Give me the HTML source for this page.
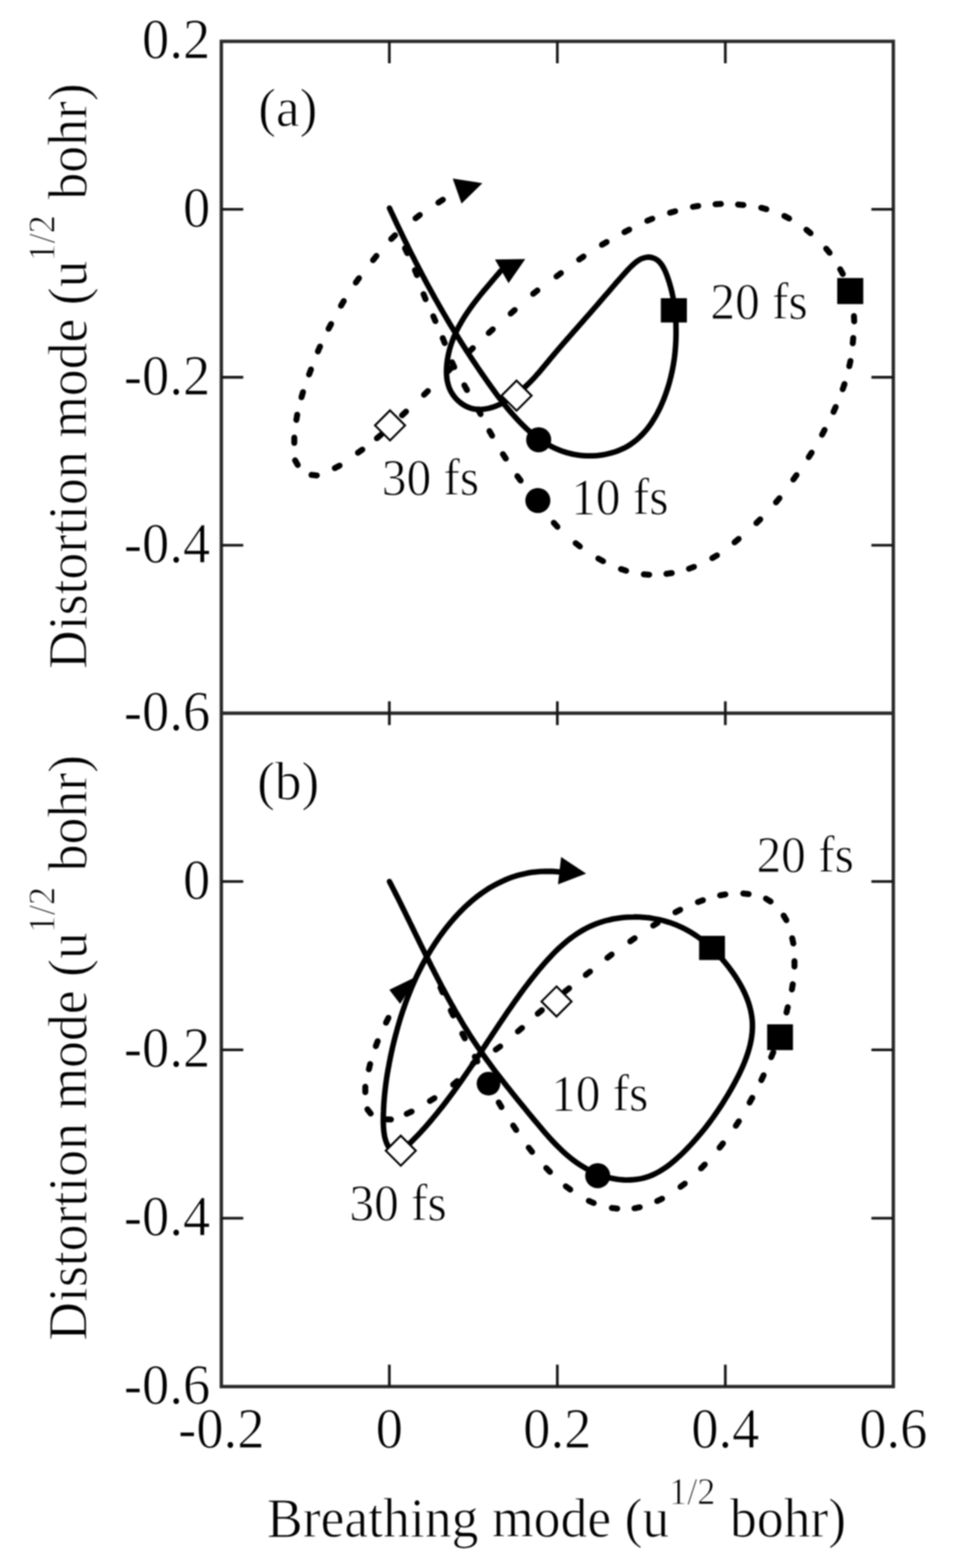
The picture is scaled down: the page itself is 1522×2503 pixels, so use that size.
<!DOCTYPE html>
<html lang="en">
<head>
<meta charset="utf-8">
<title>Breathing mode vs distortion mode trajectories</title>
<style>
html,body{margin:0;padding:0;background:#fff;}
body{width:1522px;height:2503px;overflow:hidden;font-family:"Liberation Serif","DejaVu Serif",serif;}
svg{display:block;filter:blur(1.0px);}
text{white-space:pre;}
</style>
</head>
<body>
<svg width="1522" height="2503" viewBox="0 0 1522 2503">
<rect width="1522" height="2503" fill="#fff"/>
<g fill="none" stroke="#2a2a2a" stroke-width="5.40" stroke-linecap="butt">
<rect x="353.50" y="66.00" width="1073.20" height="2147.40"/>
<line x1="353.50" y1="1138.50" x2="1426.70" y2="1138.50"/>
</g>
<g stroke="#181818" stroke-width="4.30">
<line x1="621.80" y1="66.00" x2="621.80" y2="101.00"/>
<line x1="621.80" y1="1119.50" x2="621.80" y2="1157.50"/>
<line x1="621.80" y1="2178.40" x2="621.80" y2="2213.40"/>
<line x1="890.10" y1="66.00" x2="890.10" y2="101.00"/>
<line x1="890.10" y1="1119.50" x2="890.10" y2="1157.50"/>
<line x1="890.10" y1="2178.40" x2="890.10" y2="2213.40"/>
<line x1="1158.40" y1="66.00" x2="1158.40" y2="101.00"/>
<line x1="1158.40" y1="1119.50" x2="1158.40" y2="1157.50"/>
<line x1="1158.40" y1="2178.40" x2="1158.40" y2="2213.40"/>
<line x1="353.50" y1="334.12" x2="388.50" y2="334.12"/>
<line x1="1391.70" y1="334.12" x2="1426.70" y2="334.12"/>
<line x1="353.50" y1="602.25" x2="388.50" y2="602.25"/>
<line x1="1391.70" y1="602.25" x2="1426.70" y2="602.25"/>
<line x1="353.50" y1="870.38" x2="388.50" y2="870.38"/>
<line x1="1391.70" y1="870.38" x2="1426.70" y2="870.38"/>
<line x1="353.50" y1="1407.22" x2="388.50" y2="1407.22"/>
<line x1="1391.70" y1="1407.22" x2="1426.70" y2="1407.22"/>
<line x1="353.50" y1="1675.95" x2="388.50" y2="1675.95"/>
<line x1="1391.70" y1="1675.95" x2="1426.70" y2="1675.95"/>
<line x1="353.50" y1="1944.68" x2="388.50" y2="1944.68"/>
<line x1="1391.70" y1="1944.68" x2="1426.70" y2="1944.68"/>
</g>
<g font-family="'Liberation Serif', 'DejaVu Serif', serif" fill="#000" stroke="#fff" stroke-width="1.20">
<text transform="translate(335.8 93.4) scale(1 1.037)" font-size="87.2" text-anchor="end">0.2</text>
<text transform="translate(335.8 361.5) scale(1 1.037)" font-size="87.2" text-anchor="end">0</text>
<text transform="translate(335.8 629.6) scale(1 1.037)" font-size="87.2" text-anchor="end">-0.2</text>
<text transform="translate(335.8 897.8) scale(1 1.037)" font-size="87.2" text-anchor="end">-0.4</text>
<text transform="translate(335.8 1165.9) scale(1 1.037)" font-size="87.2" text-anchor="end">-0.6</text>
<text transform="translate(335.8 1434.6) scale(1 1.037)" font-size="87.2" text-anchor="end">0</text>
<text transform="translate(335.8 1703.4) scale(1 1.037)" font-size="87.2" text-anchor="end">-0.2</text>
<text transform="translate(335.8 1972.1) scale(1 1.037)" font-size="87.2" text-anchor="end">-0.4</text>
<text transform="translate(335.8 2240.8) scale(1 1.037)" font-size="87.2" text-anchor="end">-0.6</text>
<text transform="translate(353.5 2310.8) scale(1 1.037)" font-size="87.2" text-anchor="middle">-0.2</text>
<text transform="translate(621.8 2310.8) scale(1 1.037)" font-size="87.2" text-anchor="middle">0</text>
<text transform="translate(890.1 2310.8) scale(1 1.037)" font-size="87.2" text-anchor="middle">0.2</text>
<text transform="translate(1158.4 2310.8) scale(1 1.037)" font-size="87.2" text-anchor="middle">0.4</text>
<text transform="translate(1426.7 2310.8) scale(1 1.037)" font-size="87.2" text-anchor="middle">0.6</text>
<g transform="translate(0 2452.8) scale(1 1.040)"><text font-size="85.7"><tspan x="426.3" y="0">Breathing mode (u</tspan><tspan x="1068.5" y="-49.5" font-size="58.0">1/2 </tspan><tspan x="1165.8" y="0">bohr)</tspan></text></g>
<g transform="translate(138.3 1068.0) rotate(-90)"><g transform="translate(0 0.0) scale(1 1.040)"><text font-size="85.7"><tspan x="0.0" y="0">Distortion mode (u</tspan><tspan x="650.5" y="-49.5" font-size="58.0">1/2 </tspan><tspan x="749.5" y="0">bohr)</tspan></text></g></g>
<g transform="translate(138.3 2140.3) rotate(-90)"><g transform="translate(0 0.0) scale(1 1.040)"><text font-size="85.7"><tspan x="0.0" y="0">Distortion mode (u</tspan><tspan x="650.5" y="-49.5" font-size="58.0">1/2 </tspan><tspan x="749.5" y="0">bohr)</tspan></text></g></g>
<text transform="translate(412.5 200.8) scale(1 1.020)" font-size="85.0" text-anchor="start">(a)</text>
<text transform="translate(410.8 1275.6) scale(1 1.020)" font-size="85.0" text-anchor="start">(b)</text>
<text transform="translate(609.8 790.0) scale(1 1.040)" font-size="78.8" text-anchor="start">30 fs</text>
<text transform="translate(1134.5 509.0) scale(1 1.040)" font-size="78.8" text-anchor="start">20 fs</text>
<text transform="translate(912.2 821.0) scale(1 1.040)" font-size="78.8" text-anchor="start">10 fs</text>
<text transform="translate(558.0 1948.0) scale(1 1.040)" font-size="78.8" text-anchor="start">30 fs</text>
<text transform="translate(880.0 1773.0) scale(1 1.040)" font-size="78.8" text-anchor="start">10 fs</text>
<text transform="translate(1208.2 1392.0) scale(1 1.040)" font-size="78.8" text-anchor="start">20 fs</text>
</g>
<path d="M646.8 396.3 L650.4 404.1 M662.7 431.2 L665.9 439.2 M676.4 469.6 L679.6 477.6 M692.0 504.8 L695.4 512.6 M707.1 539.7 L710.3 547.7 M721.9 578.2 L725.5 586.0 M741.6 615.0 L745.8 622.6 M763.3 653.4 L767.5 661.0 M781.7 688.1 L785.9 695.5 M803.2 724.9 L807.8 732.1 M826.3 760.1 L831.5 767.1 M884.4 834.5 L890.2 840.9 M919.3 867.1 L926.1 872.3 M955.6 891.6 L963.2 895.8 M991.7 908.4 L999.9 911.0 M1028.2 916.8 L1036.8 917.4 M1064.3 916.0 L1072.9 914.8 M1100.3 907.9 L1108.3 904.9 M1137.6 890.9 L1145.0 886.5 M1173.1 865.7 L1179.7 860.3 M1208.0 835.0 L1214.2 829.0 M1239.3 801.9 L1244.9 795.3 M1267.0 765.4 L1272.0 758.4 M1291.6 729.8 L1296.2 722.6 M1312.9 693.9 L1316.9 686.3 M1331.2 657.5 L1334.6 649.7 M1345.9 621.3 L1348.7 613.1 M1356.4 584.6 L1358.2 576.2 M1361.9 548.0 L1362.7 539.4 M1364.2 513.0 L1363.8 504.4 M1346.0 437.4 L1341.8 429.8 M1324.9 403.5 L1319.5 396.9 M1294.5 372.2 L1287.9 366.8 M1260.3 348.8 L1252.7 344.8 M1223.9 333.9 L1215.7 331.7 M1187.3 327.2 L1178.7 326.4 M1151.3 325.6 L1142.7 326.0 M1115.1 328.7 L1106.7 330.1 M1078.3 337.2 L1070.1 339.6 M1041.8 349.2 L1033.8 352.4 M1004.9 366.5 L997.3 370.5 M968.8 386.3 L961.4 390.7 M931.9 409.5 L924.9 414.3 M895.8 436.0 L888.8 441.2 M858.3 463.6 L851.5 469.0 M822.0 494.9 L815.6 500.5 M787.0 525.8 L780.6 531.6 M755.2 555.8 L749.0 561.6 M721.1 587.0 L714.9 593.0 M683.4 624.2 L677.2 630.2 M648.5 657.1 L642.1 662.9 M608.5 694.0 L601.9 699.6 M578.7 717.7 L571.7 722.7 M542.3 743.2 L534.7 747.2 M506.0 758.9 L497.4 758.1 M475.5 742.2 L471.3 734.8 M470.0 707.1 L470.0 698.5 M473.3 670.3 L474.7 661.9 M481.5 634.1 L483.9 625.9 M493.6 597.8 L496.6 589.8 M507.7 561.0 L511.1 553.2 M524.8 524.8 L528.8 517.2 M544.6 488.0 L549.0 480.6 M568.3 451.1 L573.3 444.1 M595.8 415.2 L601.2 408.6 M624.8 381.5 L631.0 375.5 M663.6 348.4 L670.4 343.2 M700.1 323.4 L707.3 318.8" fill="none" stroke="#000" stroke-width="9.5" stroke-linecap="round"/>
<path d="M622.0 332.2 C622.7 333.7 624.9 338.5 626.4 341.6 C627.8 344.8 629.3 347.9 630.8 351.0 C632.3 354.2 633.7 357.3 635.2 360.4 C636.7 363.5 638.2 366.6 639.7 369.7 C641.2 372.7 642.6 375.8 644.1 378.9 C645.6 381.9 647.1 385.0 648.6 388.0 C650.1 391.0 651.6 394.1 653.1 397.1 C654.6 400.1 656.1 403.1 657.6 406.1 C659.1 409.1 660.7 412.1 662.2 415.1 C663.7 418.1 665.2 421.0 666.8 424.0 C668.3 427.0 669.8 429.9 671.4 432.9 C672.9 435.8 674.5 438.8 676.0 441.7 C677.6 444.6 679.1 447.6 680.7 450.5 C682.3 453.4 683.9 456.3 685.4 459.2 C687.0 462.1 688.6 465.0 690.2 467.9 C691.8 470.8 693.4 473.7 695.0 476.6 C696.6 479.5 698.3 482.3 699.9 485.2 C701.5 488.1 703.2 491.0 704.8 493.8 C706.5 496.7 708.1 499.5 709.8 502.4 C711.5 505.2 713.1 508.1 714.8 510.9 C716.5 513.8 718.2 516.6 719.9 519.5 C721.6 522.3 723.4 525.1 725.1 528.0 C726.8 530.8 728.6 533.6 730.3 536.4 C732.1 539.3 733.8 542.1 735.6 544.9 C737.4 547.7 739.2 550.6 741.0 553.4 C742.8 556.2 744.6 559.0 746.4 561.8 C748.3 564.6 750.1 567.4 751.9 570.3 C753.8 573.1 755.7 575.9 757.6 578.7 C759.4 581.5 761.3 584.3 763.2 587.1 C765.1 589.9 767.1 592.7 769.0 595.6 C771.0 598.4 772.9 601.2 774.9 604.0 C776.8 606.8 778.8 609.6 780.8 612.4 C782.8 615.3 784.8 618.1 786.9 620.9 C788.9 623.7 791.0 626.5 793.0 629.3 C795.1 632.1 797.2 634.9 799.3 637.6 C801.4 640.4 803.6 643.1 805.7 645.8 C807.9 648.5 810.1 651.2 812.3 653.9 C814.5 656.5 816.8 659.2 819.0 661.7 C821.3 664.3 823.6 666.8 825.9 669.3 C828.2 671.8 830.6 674.3 833.0 676.7 C835.4 679.1 837.8 681.4 840.2 683.7 C842.7 685.9 845.2 688.2 847.7 690.3 C850.2 692.4 852.8 694.5 855.4 696.5 C858.0 698.5 860.7 700.5 863.3 702.3 C866.0 704.2 868.7 705.9 871.5 707.6 C874.3 709.3 877.1 710.9 879.9 712.4 C882.8 713.9 885.7 715.3 888.6 716.6 C891.6 717.9 894.6 719.1 897.6 720.2 C900.7 721.3 903.7 722.2 906.9 723.1 C910.0 724.0 913.2 724.7 916.5 725.3 C919.7 726.0 923.0 726.5 926.4 726.8 C929.7 727.2 933.1 727.5 936.5 727.6 C939.9 727.7 943.3 727.7 946.8 727.6 C950.2 727.4 953.6 727.2 957.0 726.8 C960.5 726.4 963.9 725.9 967.2 725.2 C970.6 724.5 974.0 723.7 977.2 722.8 C980.5 721.9 983.8 720.8 986.9 719.6 C990.1 718.4 993.2 717.0 996.2 715.6 C999.2 714.1 1002.1 712.5 1004.9 710.7 C1007.7 708.9 1010.4 707.0 1013.0 705.0 C1015.7 703.0 1018.2 700.9 1020.6 698.6 C1023.0 696.4 1025.4 694.0 1027.6 691.5 C1029.9 689.1 1032.0 686.5 1034.1 683.9 C1036.2 681.2 1038.2 678.5 1040.1 675.7 C1042.0 672.9 1043.8 670.0 1045.5 667.1 C1047.3 664.2 1049.0 661.1 1050.5 658.1 C1052.1 655.1 1053.6 652.0 1055.1 648.8 C1056.5 645.7 1057.9 642.5 1059.2 639.4 C1060.5 636.2 1061.7 633.0 1062.9 629.7 C1064.1 626.5 1065.1 623.3 1066.2 620.0 C1067.2 616.8 1068.2 613.6 1069.1 610.3 C1070.0 607.1 1070.8 603.8 1071.6 600.6 C1072.4 597.3 1073.1 594.0 1073.8 590.8 C1074.4 587.5 1075.1 584.2 1075.6 581.0 C1076.1 577.7 1076.6 574.4 1077.1 571.1 C1077.5 567.9 1077.9 564.6 1078.2 561.3 C1078.5 558.0 1078.8 554.7 1079.0 551.4 C1079.2 548.1 1079.4 544.8 1079.5 541.5 C1079.6 538.2 1079.7 534.9 1079.7 531.6 C1079.7 528.3 1079.7 524.9 1079.6 521.6 C1079.6 518.3 1079.4 515.0 1079.3 511.7 C1079.1 508.3 1078.9 505.0 1078.6 501.7 C1078.3 498.4 1077.9 495.0 1077.5 491.7 C1077.1 488.3 1076.6 485.0 1076.1 481.6 C1075.5 478.3 1074.9 474.9 1074.2 471.6 C1073.5 468.2 1072.8 464.9 1071.9 461.5 C1071.0 458.1 1070.1 454.8 1069.1 451.4 C1068.0 448.0 1066.9 444.6 1065.7 441.2 C1064.5 437.9 1063.2 434.4 1061.7 431.3 C1060.2 428.2 1058.5 425.1 1056.6 422.4 C1054.8 419.8 1052.7 417.4 1050.3 415.5 C1047.9 413.7 1045.2 412.3 1042.4 411.5 C1039.5 410.6 1036.3 410.3 1033.3 410.6 C1030.3 410.9 1027.3 411.8 1024.3 413.0 C1021.4 414.3 1018.6 416.2 1015.9 418.3 C1013.1 420.3 1010.5 422.8 1007.9 425.3 C1005.3 427.8 1002.8 430.6 1000.4 433.2 C998.0 435.8 995.6 438.5 993.3 441.1 C991.0 443.7 988.7 446.2 986.5 448.8 C984.2 451.3 982.1 453.8 979.9 456.3 C977.7 458.8 975.6 461.3 973.5 463.8 C971.3 466.3 969.2 468.8 967.1 471.2 C965.0 473.7 962.9 476.2 960.7 478.7 C958.6 481.2 956.4 483.7 954.3 486.2 C952.1 488.7 949.9 491.2 947.7 493.7 C945.5 496.2 943.3 498.7 941.0 501.3 C938.8 503.8 936.6 506.3 934.3 508.9 C932.1 511.4 929.9 514.0 927.6 516.5 C925.4 519.1 923.1 521.6 920.9 524.2 C918.6 526.7 916.3 529.3 914.1 531.9 C911.8 534.4 909.6 537.0 907.4 539.5 C905.1 542.1 902.9 544.7 900.7 547.2 C898.4 549.8 896.2 552.4 894.0 554.9 C891.8 557.5 889.6 560.1 887.4 562.6 C885.2 565.2 883.1 567.8 880.9 570.3 C878.8 572.9 876.7 575.4 874.6 578.0 C872.4 580.5 870.3 583.1 868.2 585.6 C866.1 588.1 864.0 590.7 861.9 593.2 C859.7 595.6 857.6 598.1 855.4 600.6 C853.2 603.0 851.0 605.4 848.7 607.8 C846.4 610.2 844.1 612.5 841.7 614.8 C839.3 617.1 836.8 619.4 834.3 621.6 C831.8 623.8 829.1 626.0 826.4 628.1 C823.7 630.2 820.9 632.3 818.0 634.2 C815.1 636.2 812.2 638.1 809.1 639.9 C806.1 641.7 803.0 643.3 799.9 644.8 C796.7 646.3 793.5 647.7 790.3 648.9 C787.1 650.0 783.9 651.0 780.7 651.8 C777.5 652.5 774.2 653.1 771.0 653.3 C767.8 653.6 764.6 653.6 761.5 653.4 C758.3 653.1 755.2 652.5 752.2 651.7 C749.1 650.8 746.1 649.5 743.2 648.0 C740.3 646.5 737.5 644.6 734.9 642.5 C732.2 640.5 729.7 638.1 727.5 635.5 C725.3 633.0 723.2 630.2 721.5 627.3 C719.7 624.4 718.3 621.4 717.1 618.2 C715.9 615.0 715.1 611.7 714.4 608.4 C713.8 605.1 713.4 601.6 713.2 598.2 C713.0 594.8 713.0 591.2 713.2 587.8 C713.3 584.3 713.7 580.8 714.1 577.4 C714.5 574.0 715.1 570.6 715.8 567.3 C716.5 563.9 717.3 560.7 718.1 557.4 C719.0 554.2 720.0 551.0 721.1 547.9 C722.2 544.7 723.3 541.6 724.6 538.5 C725.9 535.5 727.2 532.4 728.6 529.5 C730.1 526.5 731.6 523.5 733.1 520.6 C734.7 517.7 736.3 514.8 738.0 511.9 C739.7 509.1 741.5 506.2 743.3 503.4 C745.1 500.6 747.0 497.9 748.9 495.1 C750.8 492.4 752.8 489.6 754.8 486.9 C756.8 484.2 758.8 481.6 760.9 478.9 C763.0 476.2 765.1 473.6 767.2 470.9 C769.3 468.3 771.5 465.7 773.6 463.1 C775.8 460.5 778.0 457.9 780.2 455.3 C782.3 452.7 784.5 450.2 786.7 447.6 C788.9 445.0 791.1 442.5 793.3 439.9 C795.5 437.4 798.7 433.5 799.8 432.3" fill="none" stroke="#000" stroke-width="8.8" stroke-linecap="round" stroke-linejoin="round"/>
<polygon points="790.5,414.2 838.9,413.5 812.2,451.9" fill="#000"/>
<polygon points="723.0,285.0 770.4,292.4 737.1,325.1" fill="#000"/>
<circle cx="860.3" cy="702.0" r="20.0" fill="#000"/>
<circle cx="859.0" cy="799.0" r="20.0" fill="#000"/>
<rect x="1055.4" y="476.0" width="41.6" height="38.8" fill="#000"/>
<rect x="1337.1" y="443.8" width="41.6" height="41.6" fill="#000"/>
<polygon points="825.0,607.6 849.0,631.6 825.0,655.6 801.0,631.6" fill="#fff" stroke="#000" stroke-width="3.2"/>
<polygon points="622.9,655.1 646.9,679.1 622.9,703.1 598.9,679.1" fill="#fff" stroke="#000" stroke-width="3.2"/>
<path d="M703.5 1576.4 L706.9 1584.2 M720.0 1613.1 L723.8 1620.9 M738.3 1650.0 L742.3 1657.6 M758.3 1686.7 L762.3 1694.3 M796.5 1759.8 L800.9 1767.2 M819.6 1796.6 L824.4 1803.8 M844.4 1831.9 L849.8 1838.7 M872.4 1864.5 L878.4 1870.7 M903.7 1893.7 L910.7 1898.9 M940.4 1916.9 L948.2 1920.3 M977.1 1928.3 L985.7 1929.3 M1013.3 1928.8 L1021.7 1927.2 M1049.6 1917.3 L1057.4 1913.5 M1086.8 1894.6 L1093.6 1889.4 M1119.6 1865.1 L1125.6 1858.9 M1149.2 1832.0 L1154.6 1825.2 M1175.2 1797.1 L1180.0 1789.9 M1197.2 1760.0 L1201.4 1752.4 M1215.9 1724.2 L1219.5 1716.4 M1231.6 1687.6 L1235.0 1679.6 M1256.1 1616.2 L1258.1 1607.8 M1264.7 1579.5 L1266.1 1571.1 M1268.8 1542.9 L1268.8 1534.3 M1267.0 1506.1 L1265.2 1497.7 M1255.9 1468.9 L1251.5 1461.5 M1230.7 1439.1 L1223.3 1434.5 M1195.6 1427.3 L1187.0 1426.3 M1158.5 1427.8 L1150.1 1429.2 M1122.6 1437.1 L1114.6 1439.9 M1086.3 1452.2 L1078.7 1456.2 M1050.4 1472.9 L1043.2 1477.5 M1013.6 1497.7 L1006.6 1502.7 M976.8 1523.7 L970.0 1528.9 M942.3 1550.9 L935.5 1556.3 M908.9 1577.6 L902.1 1583.0 M865.4 1612.6 L858.8 1618.2 M833.7 1640.9 L827.1 1646.5 M798.8 1670.5 L791.8 1675.5 M761.9 1692.4 L755.3 1697.8 M730.1 1725.7 L723.7 1731.3 M693.8 1752.9 L686.6 1757.5 M657.4 1774.4 L649.6 1778.0 M624.4 1787.0 L615.8 1786.8 M592.0 1777.6 L586.8 1770.8 M583.4 1743.4 L583.4 1734.8 M589.1 1707.0 L591.1 1698.6 M600.2 1670.0 L603.2 1662.0 M616.5 1632.6 L620.3 1624.8" fill="none" stroke="#000" stroke-width="9.5" stroke-linecap="round"/>
<path d="M639.7 1837.7 C637.9 1837.7 632.0 1838.7 629.0 1837.9 C626.1 1837.0 624.0 1834.9 622.1 1832.8 C620.2 1830.6 618.8 1827.8 617.6 1825.0 C616.3 1822.1 615.4 1819.0 614.6 1815.8 C613.9 1812.6 613.4 1809.2 613.0 1805.8 C612.6 1802.3 612.4 1798.7 612.2 1795.1 C612.1 1791.5 612.1 1787.8 612.2 1784.2 C612.2 1780.6 612.3 1777.0 612.5 1773.4 C612.6 1769.8 612.8 1766.3 613.0 1762.8 C613.2 1759.3 613.5 1755.8 613.8 1752.3 C614.1 1748.9 614.4 1745.4 614.8 1742.0 C615.2 1738.6 615.6 1735.2 616.0 1731.8 C616.4 1728.5 616.9 1725.1 617.4 1721.8 C617.9 1718.4 618.4 1715.1 619.0 1711.8 C619.6 1708.4 620.1 1705.1 620.8 1701.8 C621.4 1698.5 622.0 1695.2 622.7 1691.9 C623.3 1688.6 624.0 1685.3 624.7 1682.0 C625.4 1678.7 626.2 1675.4 626.9 1672.0 C627.7 1668.7 628.5 1665.4 629.3 1662.1 C630.1 1658.8 631.0 1655.6 631.8 1652.3 C632.7 1649.0 633.6 1645.7 634.5 1642.4 C635.4 1639.1 636.4 1635.8 637.3 1632.6 C638.3 1629.3 639.3 1626.0 640.3 1622.8 C641.4 1619.5 642.4 1616.3 643.5 1613.0 C644.6 1609.8 645.8 1606.6 646.9 1603.3 C648.1 1600.1 649.2 1596.9 650.5 1593.7 C651.7 1590.5 652.9 1587.3 654.2 1584.2 C655.5 1581.0 656.8 1577.8 658.1 1574.7 C659.5 1571.5 660.9 1568.4 662.3 1565.3 C663.7 1562.1 665.1 1559.0 666.6 1555.9 C668.1 1552.8 669.6 1549.8 671.2 1546.7 C672.7 1543.7 674.3 1540.6 675.9 1537.6 C677.6 1534.6 679.2 1531.6 680.9 1528.6 C682.6 1525.6 684.4 1522.6 686.1 1519.7 C687.9 1516.7 689.7 1513.8 691.6 1510.9 C693.4 1508.0 695.3 1505.1 697.2 1502.3 C699.2 1499.4 701.1 1496.6 703.1 1493.8 C705.1 1490.9 707.2 1488.2 709.3 1485.4 C711.4 1482.7 713.5 1479.9 715.7 1477.2 C717.8 1474.6 720.0 1471.9 722.3 1469.3 C724.5 1466.7 726.8 1464.1 729.2 1461.6 C731.5 1459.0 733.9 1456.5 736.3 1454.1 C738.7 1451.7 741.1 1449.3 743.6 1446.9 C746.1 1444.6 748.6 1442.3 751.2 1440.1 C753.7 1437.8 756.4 1435.7 759.0 1433.5 C761.6 1431.4 764.3 1429.4 767.1 1427.4 C769.8 1425.4 772.5 1423.5 775.4 1421.6 C778.2 1419.7 781.0 1418.0 783.9 1416.2 C786.8 1414.5 789.7 1412.9 792.7 1411.3 C795.6 1409.8 798.6 1408.3 801.7 1406.9 C804.7 1405.5 807.8 1404.1 810.9 1402.9 C814.0 1401.7 817.2 1400.5 820.4 1399.4 C823.6 1398.4 826.9 1397.4 830.1 1396.5 C833.4 1395.7 836.7 1394.9 840.1 1394.2 C843.5 1393.5 846.9 1392.9 850.3 1392.4 C853.7 1392.0 857.2 1391.6 860.7 1391.3 C864.3 1391.0 867.8 1390.9 871.4 1390.8 C875.0 1390.8 878.6 1390.8 882.3 1391.0 C886.0 1391.2 891.6 1391.7 893.5 1391.9" fill="none" stroke="#000" stroke-width="8.8" stroke-linecap="round" stroke-linejoin="round"/>
<path d="M622.0 1407.2 C622.8 1408.7 625.1 1413.1 626.6 1416.1 C628.1 1419.0 629.6 1422.0 631.1 1425.0 C632.6 1427.9 634.1 1430.9 635.6 1433.9 C637.1 1436.9 638.6 1439.9 640.1 1442.9 C641.5 1445.9 643.0 1448.9 644.5 1451.9 C646.0 1454.9 647.5 1457.9 648.9 1460.9 C650.4 1463.9 651.9 1467.0 653.4 1470.0 C654.8 1473.0 656.3 1476.0 657.8 1479.0 C659.3 1482.1 660.7 1485.1 662.2 1488.1 C663.7 1491.2 665.2 1494.2 666.7 1497.2 C668.1 1500.2 669.6 1503.3 671.1 1506.3 C672.6 1509.3 674.1 1512.4 675.6 1515.4 C677.1 1518.4 678.6 1521.4 680.1 1524.5 C681.6 1527.5 683.1 1530.5 684.6 1533.5 C686.1 1536.5 687.6 1539.6 689.1 1542.6 C690.6 1545.6 692.2 1548.6 693.7 1551.6 C695.2 1554.6 696.8 1557.6 698.3 1560.6 C699.9 1563.6 701.4 1566.6 703.0 1569.6 C704.6 1572.6 706.1 1575.6 707.7 1578.5 C709.3 1581.5 710.9 1584.5 712.5 1587.4 C714.1 1590.4 715.7 1593.3 717.3 1596.3 C719.0 1599.2 720.6 1602.2 722.2 1605.1 C723.9 1608.0 725.5 1611.0 727.2 1613.9 C728.9 1616.8 730.6 1619.7 732.3 1622.6 C734.0 1625.5 735.7 1628.4 737.4 1631.2 C739.1 1634.1 740.9 1637.0 742.6 1639.8 C744.4 1642.7 746.2 1645.5 747.9 1648.3 C749.7 1651.1 751.5 1654.0 753.3 1656.8 C755.2 1659.6 757.0 1662.3 758.9 1665.1 C760.7 1667.9 762.6 1670.6 764.5 1673.4 C766.3 1676.1 768.3 1678.9 770.2 1681.6 C772.1 1684.3 774.0 1687.0 776.0 1689.7 C777.9 1692.5 779.9 1695.1 781.9 1697.8 C783.8 1700.5 785.8 1703.2 787.8 1705.9 C789.8 1708.5 791.8 1711.2 793.9 1713.9 C795.9 1716.5 797.9 1719.2 800.0 1721.8 C802.0 1724.4 804.1 1727.1 806.2 1729.7 C808.2 1732.3 810.3 1735.0 812.4 1737.6 C814.5 1740.2 816.6 1742.9 818.7 1745.5 C820.8 1748.1 822.9 1750.7 825.0 1753.3 C827.2 1755.9 829.3 1758.6 831.4 1761.2 C833.6 1763.8 835.7 1766.4 837.9 1769.0 C840.0 1771.6 842.2 1774.3 844.3 1776.9 C846.5 1779.5 848.7 1782.1 850.8 1784.8 C853.0 1787.4 855.2 1790.0 857.4 1792.6 C859.6 1795.3 861.7 1797.9 864.0 1800.5 C866.2 1803.1 868.4 1805.7 870.6 1808.3 C872.9 1810.9 875.1 1813.4 877.4 1816.0 C879.7 1818.5 882.0 1821.0 884.3 1823.4 C886.6 1825.9 889.0 1828.3 891.4 1830.7 C893.8 1833.1 896.2 1835.5 898.7 1837.7 C901.2 1840.0 903.7 1842.3 906.2 1844.4 C908.8 1846.6 911.3 1848.7 914.0 1850.8 C916.6 1852.8 919.3 1854.8 922.0 1856.7 C924.8 1858.6 927.6 1860.4 930.4 1862.1 C933.3 1863.9 936.2 1865.5 939.2 1867.1 C942.1 1868.6 945.2 1870.1 948.2 1871.5 C951.3 1872.8 954.4 1874.1 957.6 1875.3 C960.8 1876.4 964.0 1877.5 967.2 1878.4 C970.4 1879.3 973.7 1880.2 977.0 1880.9 C980.2 1881.5 983.5 1882.1 986.8 1882.6 C990.1 1883.0 993.4 1883.3 996.7 1883.5 C1000.0 1883.6 1003.3 1883.7 1006.5 1883.5 C1009.8 1883.4 1013.1 1883.2 1016.3 1882.7 C1019.5 1882.3 1022.7 1881.7 1025.9 1881.0 C1029.0 1880.2 1032.1 1879.3 1035.2 1878.3 C1038.3 1877.2 1041.3 1875.9 1044.3 1874.6 C1047.3 1873.2 1050.2 1871.6 1053.1 1870.0 C1056.0 1868.3 1058.8 1866.6 1061.6 1864.7 C1064.4 1862.8 1067.1 1860.8 1069.8 1858.7 C1072.6 1856.6 1075.2 1854.4 1077.8 1852.2 C1080.4 1849.9 1083.0 1847.6 1085.5 1845.2 C1088.1 1842.9 1090.6 1840.4 1093.0 1838.0 C1095.4 1835.5 1097.9 1833.0 1100.2 1830.5 C1102.6 1828.1 1104.9 1825.5 1107.2 1823.0 C1109.4 1820.5 1111.7 1818.0 1113.9 1815.4 C1116.1 1812.8 1118.3 1810.3 1120.4 1807.7 C1122.5 1805.1 1124.6 1802.5 1126.7 1799.9 C1128.7 1797.3 1130.8 1794.6 1132.8 1792.0 C1134.8 1789.3 1136.7 1786.7 1138.7 1784.0 C1140.6 1781.3 1142.5 1778.6 1144.4 1775.8 C1146.3 1773.1 1148.1 1770.3 1150.0 1767.5 C1151.8 1764.7 1153.6 1761.9 1155.4 1759.1 C1157.2 1756.3 1158.9 1753.4 1160.7 1750.5 C1162.4 1747.6 1164.2 1744.7 1165.9 1741.8 C1167.6 1738.8 1169.3 1735.9 1170.9 1732.9 C1172.6 1729.9 1174.2 1726.8 1175.8 1723.8 C1177.4 1720.8 1179.0 1717.7 1180.5 1714.6 C1182.0 1711.5 1183.5 1708.4 1184.9 1705.3 C1186.3 1702.1 1187.6 1699.0 1188.9 1695.8 C1190.2 1692.7 1191.4 1689.5 1192.5 1686.3 C1193.6 1683.1 1194.7 1679.9 1195.6 1676.7 C1196.6 1673.5 1197.4 1670.3 1198.2 1667.0 C1198.9 1663.8 1199.5 1660.6 1200.1 1657.4 C1200.6 1654.1 1201.0 1650.9 1201.3 1647.7 C1201.5 1644.4 1201.7 1641.2 1201.7 1638.0 C1201.7 1634.7 1201.6 1631.5 1201.3 1628.3 C1201.0 1625.1 1200.6 1621.9 1200.0 1618.7 C1199.5 1615.5 1198.8 1612.3 1197.9 1609.1 C1197.1 1605.9 1196.1 1602.7 1195.1 1599.6 C1194.0 1596.5 1192.8 1593.3 1191.5 1590.2 C1190.2 1587.1 1188.8 1584.0 1187.3 1581.0 C1185.8 1577.9 1184.2 1574.9 1182.5 1571.9 C1180.9 1568.9 1179.1 1566.0 1177.2 1563.0 C1175.4 1560.1 1173.5 1557.2 1171.5 1554.4 C1169.6 1551.5 1167.5 1548.7 1165.4 1546.0 C1163.4 1543.2 1161.2 1540.5 1159.0 1537.8 C1156.9 1535.2 1154.7 1532.5 1152.4 1530.0 C1150.1 1527.4 1147.8 1524.9 1145.5 1522.4 C1143.1 1520.0 1140.7 1517.6 1138.3 1515.3 C1135.9 1512.9 1133.4 1510.6 1130.9 1508.4 C1128.3 1506.2 1125.8 1504.1 1123.2 1502.0 C1120.6 1499.9 1117.9 1497.9 1115.2 1496.0 C1112.5 1494.1 1109.7 1492.2 1107.0 1490.5 C1104.2 1488.7 1101.3 1487.0 1098.4 1485.4 C1095.5 1483.8 1092.6 1482.2 1089.6 1480.8 C1086.7 1479.4 1083.6 1478.0 1080.6 1476.7 C1077.5 1475.5 1074.4 1474.3 1071.2 1473.2 C1068.1 1472.1 1064.9 1471.1 1061.6 1470.2 C1058.4 1469.3 1055.1 1468.5 1051.8 1467.8 C1048.6 1467.1 1045.2 1466.5 1041.9 1466.0 C1038.6 1465.4 1035.2 1465.0 1031.8 1464.7 C1028.5 1464.3 1025.1 1464.1 1021.7 1463.9 C1018.3 1463.8 1014.9 1463.7 1011.6 1463.8 C1008.2 1463.8 1004.8 1463.9 1001.4 1464.1 C998.0 1464.4 994.6 1464.7 991.3 1465.1 C987.9 1465.5 984.6 1466.0 981.3 1466.6 C978.0 1467.2 974.7 1468.0 971.4 1468.8 C968.2 1469.5 964.9 1470.4 961.7 1471.4 C958.5 1472.4 955.4 1473.5 952.2 1474.7 C949.1 1475.9 946.1 1477.2 943.0 1478.5 C940.0 1479.9 937.0 1481.4 934.1 1483.0 C931.2 1484.5 928.3 1486.2 925.5 1488.0 C922.7 1489.7 919.9 1491.5 917.2 1493.5 C914.5 1495.4 911.8 1497.4 909.1 1499.4 C906.5 1501.5 903.9 1503.6 901.3 1505.8 C898.8 1507.9 896.3 1510.2 893.8 1512.5 C891.3 1514.8 888.9 1517.1 886.5 1519.5 C884.1 1521.9 881.7 1524.4 879.4 1526.9 C877.1 1529.3 874.8 1531.8 872.5 1534.4 C870.2 1536.9 868.0 1539.5 865.8 1542.1 C863.5 1544.7 861.4 1547.3 859.2 1549.9 C857.0 1552.6 854.9 1555.2 852.8 1557.9 C850.7 1560.5 848.6 1563.2 846.5 1565.8 C844.4 1568.5 842.4 1571.2 840.3 1573.9 C838.3 1576.5 836.3 1579.2 834.3 1581.9 C832.3 1584.6 830.3 1587.3 828.4 1590.0 C826.4 1592.8 824.5 1595.5 822.5 1598.2 C820.6 1600.9 818.7 1603.7 816.8 1606.4 C814.9 1609.1 813.0 1611.9 811.1 1614.6 C809.2 1617.4 807.3 1620.1 805.4 1622.9 C803.6 1625.6 801.7 1628.4 799.8 1631.2 C798.0 1633.9 796.1 1636.7 794.3 1639.5 C792.4 1642.3 790.6 1645.0 788.8 1647.8 C786.9 1650.6 785.1 1653.4 783.2 1656.2 C781.4 1658.9 779.6 1661.7 777.7 1664.5 C775.9 1667.3 774.1 1670.1 772.2 1672.9 C770.4 1675.7 768.5 1678.5 766.7 1681.3 C764.8 1684.1 763.0 1686.9 761.1 1689.6 C759.2 1692.4 757.4 1695.2 755.5 1698.0 C753.6 1700.8 751.7 1703.6 749.8 1706.4 C747.9 1709.1 746.0 1711.9 744.1 1714.7 C742.2 1717.5 740.3 1720.2 738.4 1723.0 C736.4 1725.8 734.5 1728.5 732.6 1731.2 C730.6 1734.0 728.6 1736.7 726.7 1739.5 C724.7 1742.2 722.7 1744.9 720.7 1747.6 C718.7 1750.3 716.7 1753.0 714.7 1755.7 C712.6 1758.4 710.6 1761.0 708.5 1763.7 C706.5 1766.3 704.4 1769.0 702.3 1771.6 C700.2 1774.2 698.1 1776.9 696.0 1779.4 C693.9 1782.0 691.7 1784.6 689.6 1787.2 C687.4 1789.7 685.2 1792.3 683.0 1794.8 C680.8 1797.3 678.6 1799.8 676.4 1802.3 C674.1 1804.8 671.9 1807.3 669.6 1809.7 C667.3 1812.1 665.0 1814.5 662.6 1816.9 C660.3 1819.3 658.0 1821.7 655.6 1824.0 C653.2 1826.4 650.8 1828.7 648.4 1831.0 C645.9 1833.3 642.2 1836.7 641.0 1837.8" fill="none" stroke="#000" stroke-width="8.8" stroke-linecap="round" stroke-linejoin="round"/>
<polygon points="896.1,1368.0 936.1,1394.5 891.1,1411.7" fill="#000"/>
<polygon points="621.8,1580.1 668.0,1557.5 639.0,1602.5" fill="#000"/>
<circle cx="954.6" cy="1876.8" r="20.0" fill="#000"/>
<circle cx="780.2" cy="1729.8" r="18.9" fill="#000"/>
<rect x="1116.5" y="1493.9" width="41.3" height="38.6" fill="#000"/>
<rect x="1225.2" y="1635.1" width="41.2" height="41.2" fill="#000"/>
<polygon points="888.8,1574.7 912.8,1598.7 888.8,1622.7 864.8,1598.7" fill="#fff" stroke="#000" stroke-width="3.2"/>
<polygon points="640.1,1812.8 664.1,1836.8 640.1,1860.8 616.1,1836.8" fill="#fff" stroke="#000" stroke-width="3.2"/>
</svg>
</body>
</html>
